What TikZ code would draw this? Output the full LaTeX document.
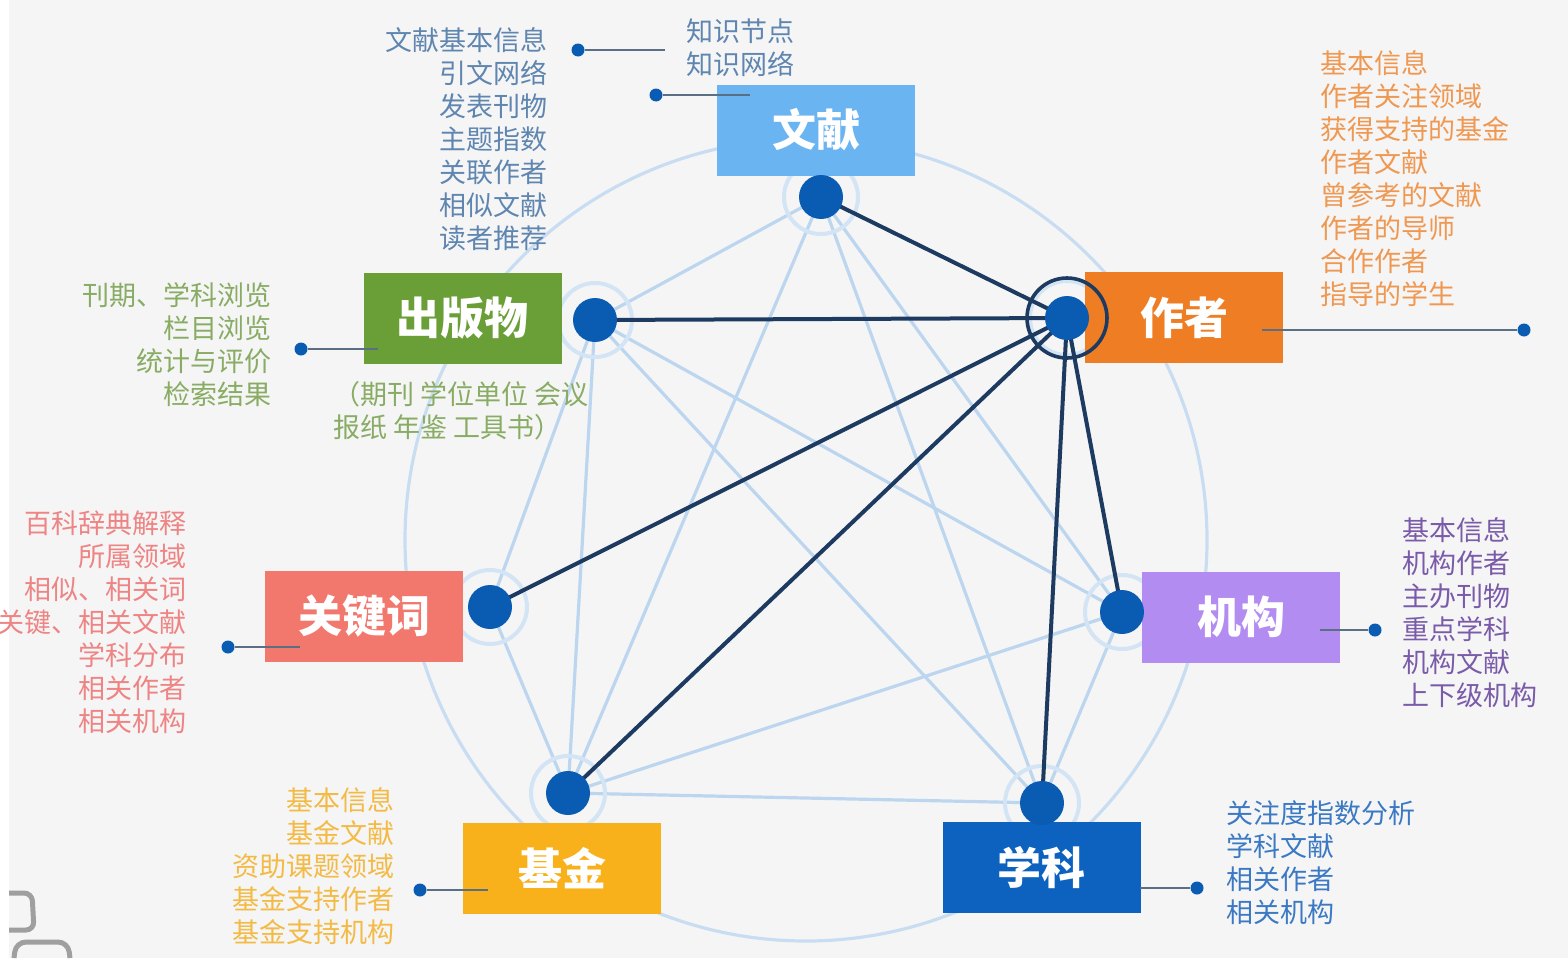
\documentclass[tikz,border=0pt]{standalone}
\usepackage{fontspec}
\setmainfont{Noto Sans CJK SC}
\definecolor{bgc}{HTML}{F5F5F5}
\definecolor{ringc}{HTML}{C9DDF2}
\definecolor{lightc}{HTML}{BCD6F0}
\definecolor{haloc}{HTML}{D3E4F5}
\definecolor{darkc}{HTML}{1D3A60}
\definecolor{dotc}{HTML}{0A5BB2}
\definecolor{connc}{HTML}{5A6E84}
\definecolor{cwx}{HTML}{6AB4F2}
\definecolor{ccb}{HTML}{6A9E36}
\definecolor{czz}{HTML}{EE7D24}
\definecolor{cgj}{HTML}{F2776C}
\definecolor{cjg}{HTML}{B38CF2}
\definecolor{cjj}{HTML}{F9B11B}
\definecolor{cxk}{HTML}{0C62BE}
\definecolor{lwx}{HTML}{5F86B0}
\definecolor{lzz}{HTML}{EF9852}
\definecolor{lcb}{HTML}{88AC64}
\definecolor{lgj}{HTML}{EE8484}
\definecolor{ljg}{HTML}{7A5BAA}
\definecolor{ljj}{HTML}{F3BA45}
\definecolor{lxk}{HTML}{3B79C4}
\begin{document}
\begin{tikzpicture}[x=0.5pt,y=-0.5pt,
  bigring/.style={draw=ringc,line width=1.6pt},
  lightedge/.style={draw=lightc,line width=1.6pt},
  darkedge/.style={draw=darkc,line width=2pt},
  halo/.style={circle,draw=haloc,line width=2pt,minimum size=37pt,inner sep=0pt},
  bigdot/.style={circle,fill=dotc,minimum size=22pt,inner sep=0pt},
  sdot/.style={circle,fill=dotc,minimum size=6.5pt,inner sep=0pt},
  conn/.style={draw=connc,line width=1.1pt},
  box/.style={rectangle,minimum width=99pt,minimum height=45.5pt,inner sep=0pt,text=white,font=\fontsize{22}{26}\selectfont\bfseries},
  listtext/.style={inner sep=0pt,font=\fontsize{13.5}{16.5}\selectfont}
]
\useasboundingbox (0,0) rectangle (1568,958);
\fill[bgc] (0,0) rectangle (1568,958);
\fill[white] (0,0) rectangle (9,958);

% big background circle
\draw[bigring] (806,540) circle[radius=200.5pt];

% positions of the seven dots
\coordinate (pwx) at (821,197);
\coordinate (pcb) at (595,320);
\coordinate (pzz) at (1067,318);
\coordinate (pgj) at (490,607);
\coordinate (pjg) at (1122,612);
\coordinate (pjj) at (568,793);
\coordinate (pxk) at (1042,803);

% light edges
\draw[lightedge] (pwx) -- (pcb);
\draw[lightedge] (pwx) -- (pjj);
\draw[lightedge] (pwx) -- (pxk);
\draw[lightedge] (pwx) -- (pjg);
\draw[lightedge] (pcb) -- (pgj);
\draw[lightedge] (pcb) -- (pjj);
\draw[lightedge] (pcb) -- (pxk);
\draw[lightedge] (pcb) -- (pjg);
\draw[lightedge] (pgj) -- (pjj);
\draw[lightedge] (pjj) -- (pjg);
\draw[lightedge] (pjj) -- (pxk);
\draw[lightedge] (pjg) -- (pxk);

% halos
\node[halo] (hwx) at (pwx) {};
\node[halo] (hcb) at (pcb) {};
\node[halo] (hzz) at (pzz) {};
\node[halo] (hgj) at (pgj) {};
\node[halo] (hjg) at (pjg) {};
\node[halo] (hjj) at (pjj) {};
\node[halo] (hxk) at (pxk) {};

% boxes
\node[box,fill=cwx] (bwx) at (816,130) {文献};
\node[box,fill=ccb] (bcb) at (462.5,318.5) {出版物};
\node[box,fill=czz] (bzz) at (1184,317.5) {作者};
\node[box,fill=cgj] (bgj) at (364,616) {关键词};
\node[box,fill=cjg] (bjg) at (1241,617) {机构};
\node[box,fill=cjj] (bjj) at (562,868) {基金};
\node[box,fill=cxk] (bxk) at (1041.5,867.5) {学科};

% dark edges from author
\draw[darkedge] (pzz) -- (pwx);
\draw[darkedge] (pzz) -- (pcb);
\draw[darkedge] (pzz) -- (pgj);
\draw[darkedge] (pzz) -- (pjj);
\draw[darkedge] (pzz) -- (pxk);
\draw[darkedge] (pzz) -- (pjg);

% dots
\node[bigdot] (dwx) at (pwx) {};
\node[bigdot] (dcb) at (pcb) {};
\node[bigdot] (dzz) at (pzz) {};
\node[bigdot] (dgj) at (pgj) {};
\node[bigdot] (djg) at (pjg) {};
\node[bigdot] (djj) at (pjj) {};
\node[bigdot] (dxk) at (pxk) {};
\node[circle,draw=darkc,line width=1.8pt,minimum size=40pt,inner sep=0pt] (rzz) at (pzz) {};

% text lists
\node[listtext,text=lwx,anchor=east,align=right] (twx) at (548,139) {文献基本信息\\引文网络\\发表刊物\\主题指数\\关联作者\\相似文献\\读者推荐};
\node[listtext,text=lwx,anchor=west,align=left] (tzs) at (686,48) {知识节点\\知识网络};
\node[listtext,text=lzz,anchor=west,align=left] (tzz) at (1320,179) {基本信息\\作者关注领域\\获得支持的基金\\作者文献\\曾参考的文献\\作者的导师\\合作作者\\指导的学生};
\node[listtext,text=lcb,anchor=east,align=right] (tcb) at (272,344.5) {刊期、学科浏览\\栏目浏览\\统计与评价\\检索结果};
\node[listtext,text=lcb,anchor=west,align=left] (scb) at (333,411) {（期刊 学位单位 会议\\报纸 年鉴 工具书）};
\node[listtext,text=lgj,anchor=east,align=right] (tgj) at (187,622.5) {百科辞典解释\\所属领域\\相似、相关词\\关键、相关文献\\学科分布\\相关作者\\相关机构};
\node[listtext,text=ljg,anchor=west,align=left] (tjg) at (1402,612.5) {基本信息\\机构作者\\主办刊物\\重点学科\\机构文献\\上下级机构};
\node[listtext,text=ljj,anchor=east,align=right] (tjj) at (395,866) {基本信息\\基金文献\\资助课题领域\\基金支持作者\\基金支持机构};
\node[listtext,text=lxk,anchor=west,align=left] (txk) at (1226,863) {关注度指数分析\\学科文献\\相关作者\\相关机构};

% small connectors
\node[sdot] (swx) at (578,50) {};
\coordinate (ewx) at (665,50);
\draw[conn] (swx) -- (ewx);
\node[sdot] (szs) at (656,95) {};
\coordinate (ezs) at (750,95);
\draw[conn] (szs) -- (ezs);
\node[sdot] (szz) at (1524,330) {};
\coordinate (ezz) at (1262,330);
\draw[conn] (ezz) -- (szz);
\node[sdot] (scbd) at (301,349) {};
\coordinate (ecb) at (378,349);
\draw[conn] (scbd) -- (ecb);
\node[sdot] (sgj) at (228,647) {};
\coordinate (egj) at (300,647);
\draw[conn] (sgj) -- (egj);
\node[sdot] (sjg) at (1375,630) {};
\coordinate (ejg) at (1320,630);
\draw[conn] (ejg) -- (sjg);
\node[sdot] (sjj) at (420,890) {};
\coordinate (ejj) at (488,890);
\draw[conn] (sjj) -- (ejj);
\node[sdot] (sxk) at (1197,888) {};
\coordinate (exk) at (1140,888);
\draw[conn] (exk) -- (sxk);

% partial icon bottom-left
\draw[gray!75,line width=2.5pt,rounded corners=4pt] (9,893) -- (32,893) -- (34,930) -- (9,930);
\draw[gray!75,line width=2.5pt,rounded corners=5pt] (14,958) -- (16,942) -- (68,942) -- (70,958);
\end{tikzpicture}
\end{document}
